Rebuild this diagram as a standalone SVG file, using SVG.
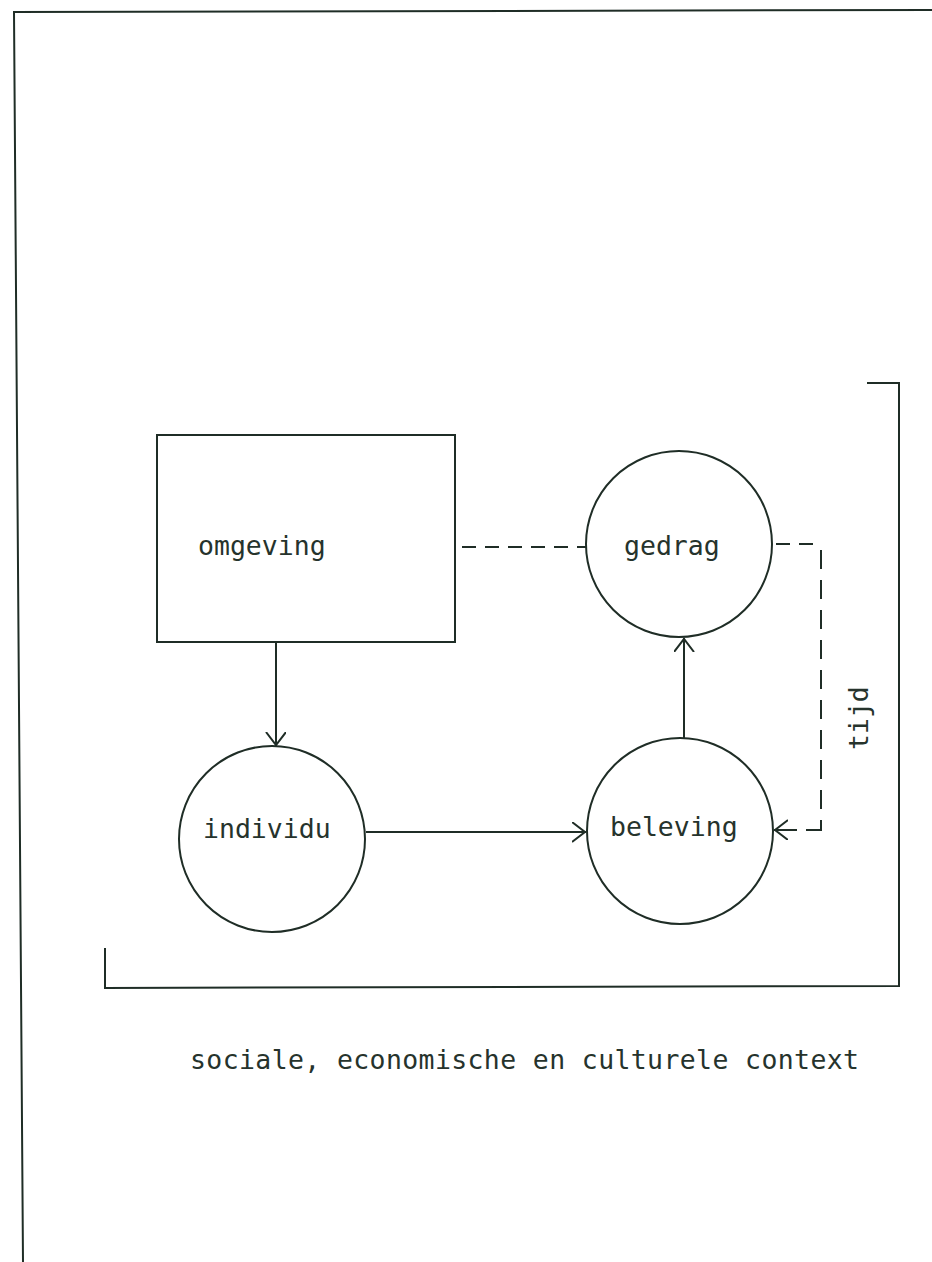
<svg xmlns="http://www.w3.org/2000/svg" width="932" height="1262" viewBox="0 0 932 1262">
  <style>
    .ln { fill: none; stroke: #1f2d26; stroke-width: 2; stroke-linecap: square; }
    .shape { fill: #ffffff; stroke: #1f2d26; stroke-width: 2; }
    .dash { fill: none; stroke: #1f2d26; stroke-width: 2; stroke-dasharray: 14 9; }
    .vdash { fill: none; stroke: #1f2d26; stroke-width: 2; stroke-dasharray: 19 11; }
    .lbl { font-family: "DejaVu Sans Mono", "Liberation Mono", monospace; font-size: 26.5px; fill: #26332c; }
  </style>
  <defs>
    <marker id="arr" markerUnits="userSpaceOnUse" markerWidth="16" markerHeight="24" refX="13" refY="10" orient="auto">
      <path d="M0,0 L13,10 L0,20" fill="none" stroke="#1f2d26" stroke-width="2"/>
    </marker>
  </defs>
  <rect width="932" height="1262" fill="#ffffff"/>

  <g id="frame">
    <path class="ln" d="M932,10 L14,12 L23,1262"/>
  </g>

  <g id="context">
    <path class="ln" d="M105,949 L105,988 L899,986 L899,383 L868,383"/>
    <text class="lbl" x="190" y="1069" font-size="27" textLength="669" lengthAdjust="spacing">sociale, economische en culturele context</text>
  </g>

  <g id="connectors">
    <line class="ln" x1="276" y1="642" x2="276" y2="745" marker-end="url(#arr)"/>
    <line class="ln" x1="367" y1="832" x2="585" y2="832" marker-end="url(#arr)"/>
    <line class="ln" x1="684" y1="737" x2="684" y2="639" marker-end="url(#arr)"/>
    <line class="dash" x1="462" y1="547" x2="586" y2="547"/>
    <path class="dash" d="M776,544 L821,544"/>
    <path class="vdash" d="M821,550 L821,830"/>
    <path class="ln" d="M821,830 L807,830"/>
    <line class="ln" x1="796" y1="830" x2="775" y2="830" marker-end="url(#arr)"/>
    <text class="lbl" transform="translate(868,750) rotate(-90)" x="0" y="0">tijd</text>
  </g>

  <g id="omgeving">
    <rect class="shape" x="157" y="435" width="298" height="207"/>
    <text class="lbl" x="198" y="555">omgeving</text>
  </g>

  <g id="gedrag">
    <circle class="shape" cx="679" cy="544" r="93"/>
    <text class="lbl" x="624" y="555">gedrag</text>
  </g>

  <g id="individu">
    <circle class="shape" cx="272" cy="839" r="93"/>
    <text class="lbl" x="203" y="838">individu</text>
  </g>

  <g id="beleving">
    <circle class="shape" cx="680" cy="831" r="93"/>
    <text class="lbl" x="610" y="836">beleving</text>
  </g>
</svg>
